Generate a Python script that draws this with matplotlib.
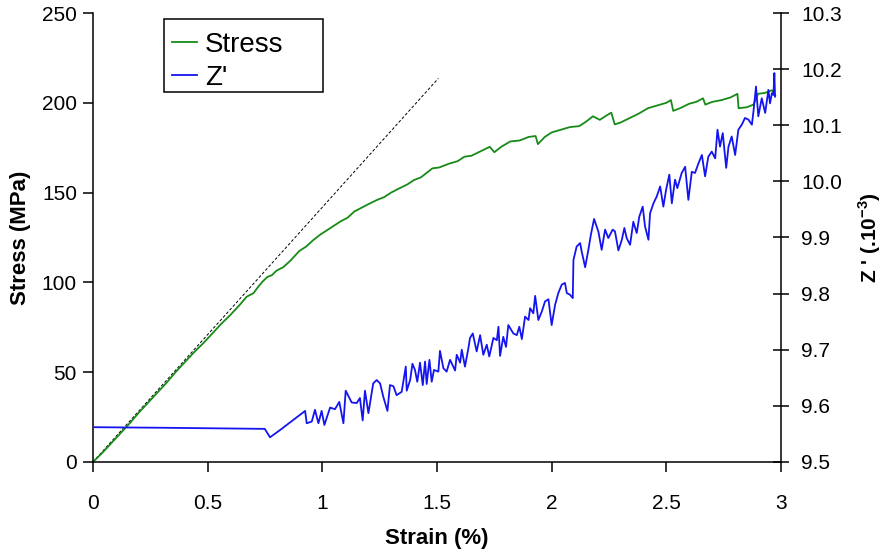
import matplotlib
matplotlib.use('Agg')
import matplotlib.pyplot as plt
from matplotlib.patches import Rectangle
from matplotlib.ticker import FormatStrFormatter

plt.rcParams['font.family'] = ['Liberation Sans', 'DejaVu Sans']
plt.rcParams['mathtext.fontset'] = 'custom'
plt.rcParams['mathtext.bf'] = 'Liberation Sans:bold'
plt.rcParams['mathtext.rm'] = 'Liberation Sans'

### Data
strainStress = [0.00, 0.04, 0.08, 0.12, 0.16, 0.20, 0.24, 0.28, 0.32, 0.36,
                0.40, 0.44, 0.48, 0.52, 0.56, 0.60, 0.64, 0.67, 0.70, 0.72,
                0.74, 0.76, 0.78, 0.80, 0.83, 0.86, 0.90, 0.93, 0.96, 0.99,
                1.02, 1.05, 1.08, 1.11, 1.14, 1.17, 1.20, 1.24, 1.27, 1.30,
                1.33, 1.37, 1.40, 1.43, 1.46, 1.48, 1.51, 1.55, 1.59, 1.62,
                1.65, 1.69, 1.73, 1.75, 1.78, 1.82, 1.86, 1.90, 1.93, 1.94,
                1.97, 2.00, 2.04, 2.08, 2.12, 2.15, 2.18, 2.21, 2.24, 2.26,
                2.275, 2.30, 2.34, 2.38, 2.42, 2.46, 2.50, 2.52, 2.53, 2.56,
                2.60, 2.63, 2.66, 2.67, 2.70, 2.74, 2.78, 2.81, 2.815, 2.85,
                2.88, 2.90, 2.93, 2.96, 2.975]
stress = [0, 5, 10.5, 16, 21.5, 27.5, 33, 38.5, 44, 50,
          55.5, 61, 66, 71.5, 77, 82, 87.5, 92, 94, 97.5,
          100.5, 103, 104, 106.5, 108.5, 112, 117.5, 120, 123.5, 126.5,
          129, 131.5, 134, 136, 139.5, 141.5, 143.5, 146, 147.5, 150,
          152, 154.5, 157, 158.5, 161.5, 163.5, 164, 166, 167.5, 170,
          170.5, 173, 175.5, 172.5, 175.5, 178.5, 179, 181, 181.5, 177,
          181, 183.5, 185, 186.5, 187, 189.5, 192.5, 190.5, 193, 194.5,
          188, 189, 191.5, 194, 197, 198.5, 200, 201.5, 195.5, 197,
          199.5, 200.5, 202.5, 199, 200.5, 201.5, 203, 205, 197, 197.5,
          199, 205, 205.5, 207, 204]

strainZ = [0.0, 0.30, 0.749, 0.772, 0.816, 0.903, 0.925, 0.932, 0.954, 0.968,
           0.983, 0.997, 1.009, 1.034, 1.055, 1.074, 1.092, 1.102, 1.128, 1.150,
           1.164, 1.176, 1.186, 1.201, 1.222, 1.237, 1.252, 1.266, 1.284, 1.295,
           1.310, 1.324, 1.346, 1.364, 1.368, 1.383, 1.393, 1.404, 1.414, 1.426,
           1.438, 1.448, 1.455, 1.467, 1.477, 1.487, 1.506, 1.513, 1.528, 1.542,
           1.557, 1.579, 1.586, 1.601, 1.608, 1.622, 1.637, 1.644, 1.656, 1.673,
           1.688, 1.702, 1.717, 1.728, 1.746, 1.761, 1.768, 1.775, 1.789, 1.801,
           1.811, 1.833, 1.848, 1.859, 1.870, 1.884, 1.899, 1.906, 1.920, 1.928,
           1.942, 1.957, 1.971, 1.986, 2.000, 2.015, 2.029, 2.044, 2.058, 2.066,
           2.080, 2.092, 2.095, 2.109, 2.124, 2.131, 2.146, 2.160, 2.171, 2.185,
           2.204, 2.218, 2.233, 2.247, 2.266, 2.276, 2.291, 2.306, 2.317, 2.327,
           2.342, 2.356, 2.371, 2.382, 2.397, 2.407, 2.422, 2.429, 2.444, 2.458,
           2.473, 2.487, 2.499, 2.513, 2.524, 2.538, 2.548, 2.567, 2.582, 2.596,
           2.611, 2.625, 2.640, 2.655, 2.669, 2.683, 2.698, 2.713, 2.723, 2.734,
           2.746, 2.761, 2.771, 2.785, 2.800, 2.814, 2.829, 2.843, 2.858, 2.873,
           2.880, 2.891, 2.901, 2.916, 2.931, 2.945, 2.952, 2.960, 2.967, 2.971,
           2.974]
zPrime = [9.562, 9.561, 9.559, 9.544, 9.557, 9.584, 9.591, 9.569, 9.572, 9.593,
          9.569, 9.591, 9.566, 9.597, 9.594, 9.607, 9.569, 9.627, 9.606, 9.605,
          9.614, 9.574, 9.627, 9.587, 9.640, 9.646, 9.640, 9.616, 9.591, 9.637,
          9.635, 9.619, 9.625, 9.670, 9.627, 9.646, 9.675, 9.664, 9.643, 9.677,
          9.637, 9.679, 9.639, 9.682, 9.643, 9.664, 9.661, 9.698, 9.667, 9.661,
          9.682, 9.663, 9.691, 9.677, 9.700, 9.670, 9.703, 9.721, 9.729, 9.697,
          9.726, 9.691, 9.709, 9.688, 9.721, 9.717, 9.741, 9.689, 9.723, 9.705,
          9.744, 9.729, 9.726, 9.741, 9.719, 9.759, 9.753, 9.774, 9.765, 9.796,
          9.753, 9.768, 9.786, 9.790, 9.744, 9.780, 9.801, 9.816, 9.819, 9.801,
          9.798, 9.792, 9.860, 9.884, 9.890, 9.875, 9.847, 9.878, 9.905, 9.933,
          9.910, 9.878, 9.914, 9.899, 9.914, 9.911, 9.877, 9.896, 9.917, 9.899,
          9.887, 9.928, 9.908, 9.937, 9.955, 9.920, 9.896, 9.943, 9.961, 9.973,
          9.991, 9.955, 9.985, 10.012, 9.961, 10.003, 9.988, 10.015, 10.026, 9.967,
          10.017, 10.015, 10.032, 10.047, 10.009, 10.044, 10.053, 10.041, 10.092, 10.062,
          10.086, 10.024, 10.062, 10.080, 10.047, 10.092, 10.101, 10.113, 10.110, 10.101,
          10.125, 10.169, 10.116, 10.148, 10.122, 10.163, 10.139, 10.157, 10.154, 10.193,
          10.151]

# elastic fit line (dotted)
fitStrain = [0.0, 1.506]
fitStress = [0.0, 213.6]

xTicks = [0, 0.5, 1, 1.5, 2, 2.5, 3]
xTickLabels = ['0', '0.5', '1', '1.5', '2', '2.5', '3']
stressTicks = [0, 50, 100, 150, 200, 250]
zTicks = [9.5, 9.6, 9.7, 9.8, 9.9, 10.0, 10.1, 10.2, 10.3]

greenCol = '#178A17'
blueCol = '#1414F0'

fig = plt.figure(figsize=(8.82, 5.56), dpi=100)
ax = fig.add_axes([0.1054, 0.1691, 0.7801, 0.8075])
ax2 = ax.twinx()

ax.plot(fitStrain, fitStress, color='black', linewidth=0.7, linestyle=(0, (3, 2)))
stressLine, = ax.plot(strainStress, stress, color=greenCol, linewidth=1.3, label='Stress')
zLine, = ax2.plot(strainZ, zPrime, color=blueCol, linewidth=1.3, label="Z'")

ax.set_xlim(0, 3)
ax.set_ylim(0, 250)
ax2.set_ylim(9.5, 10.3)

ax.set_xticks(xTicks)
ax.set_xticklabels(xTickLabels)
ax.set_yticks(stressTicks)
ax2.set_yticks(zTicks)
ax2.yaxis.set_major_formatter(FormatStrFormatter('%.1f'))

for a in (ax, ax2):
    a.spines['top'].set_visible(False)
    for s in a.spines.values():
        s.set_linewidth(1.1)
ax.spines['right'].set_visible(False)
ax2.spines['left'].set_visible(False)
ax2.spines['bottom'].set_visible(False)

ax.tick_params(axis='y', direction='out', length=7, width=1.1, pad=4.5, labelsize=15)
ax.tick_params(axis='x', direction='out', length=7, width=1.1, pad=16, labelsize=15)
ax2.tick_params(axis='y', direction='inout', length=11.5, width=1.1, pad=9, labelsize=15)

ax.set_xlabel('Strain (%)', fontsize=16, fontweight='bold', labelpad=11)
ax.set_ylabel('Stress (MPa)', fontsize=16, fontweight='bold', labelpad=8)
ax2.set_ylabel(r"Z ' (.10$^{\mathbf{-3}}$)", fontsize=15, fontweight='bold',
               rotation=90, labelpad=10)

# legend box is wider than its contents in the original, so draw it by hand
ax2.add_patch(Rectangle((0.1039, 0.8247), 0.23, 0.1619, transform=ax2.transAxes,
                        facecolor='white', edgecolor='black', linewidth=1.1,
                        zorder=9, clip_on=False))
leg = ax2.legend(handles=[stressLine, zLine], loc='upper left',
                 bbox_to_anchor=(0.1144, 0.958), fontsize=20, frameon=False,
                 handlelength=0.9, handletextpad=0.3, borderpad=0,
                 labelspacing=0.26, borderaxespad=0)
leg.set_zorder(10)

fig.savefig('out.png', dpi=100)
